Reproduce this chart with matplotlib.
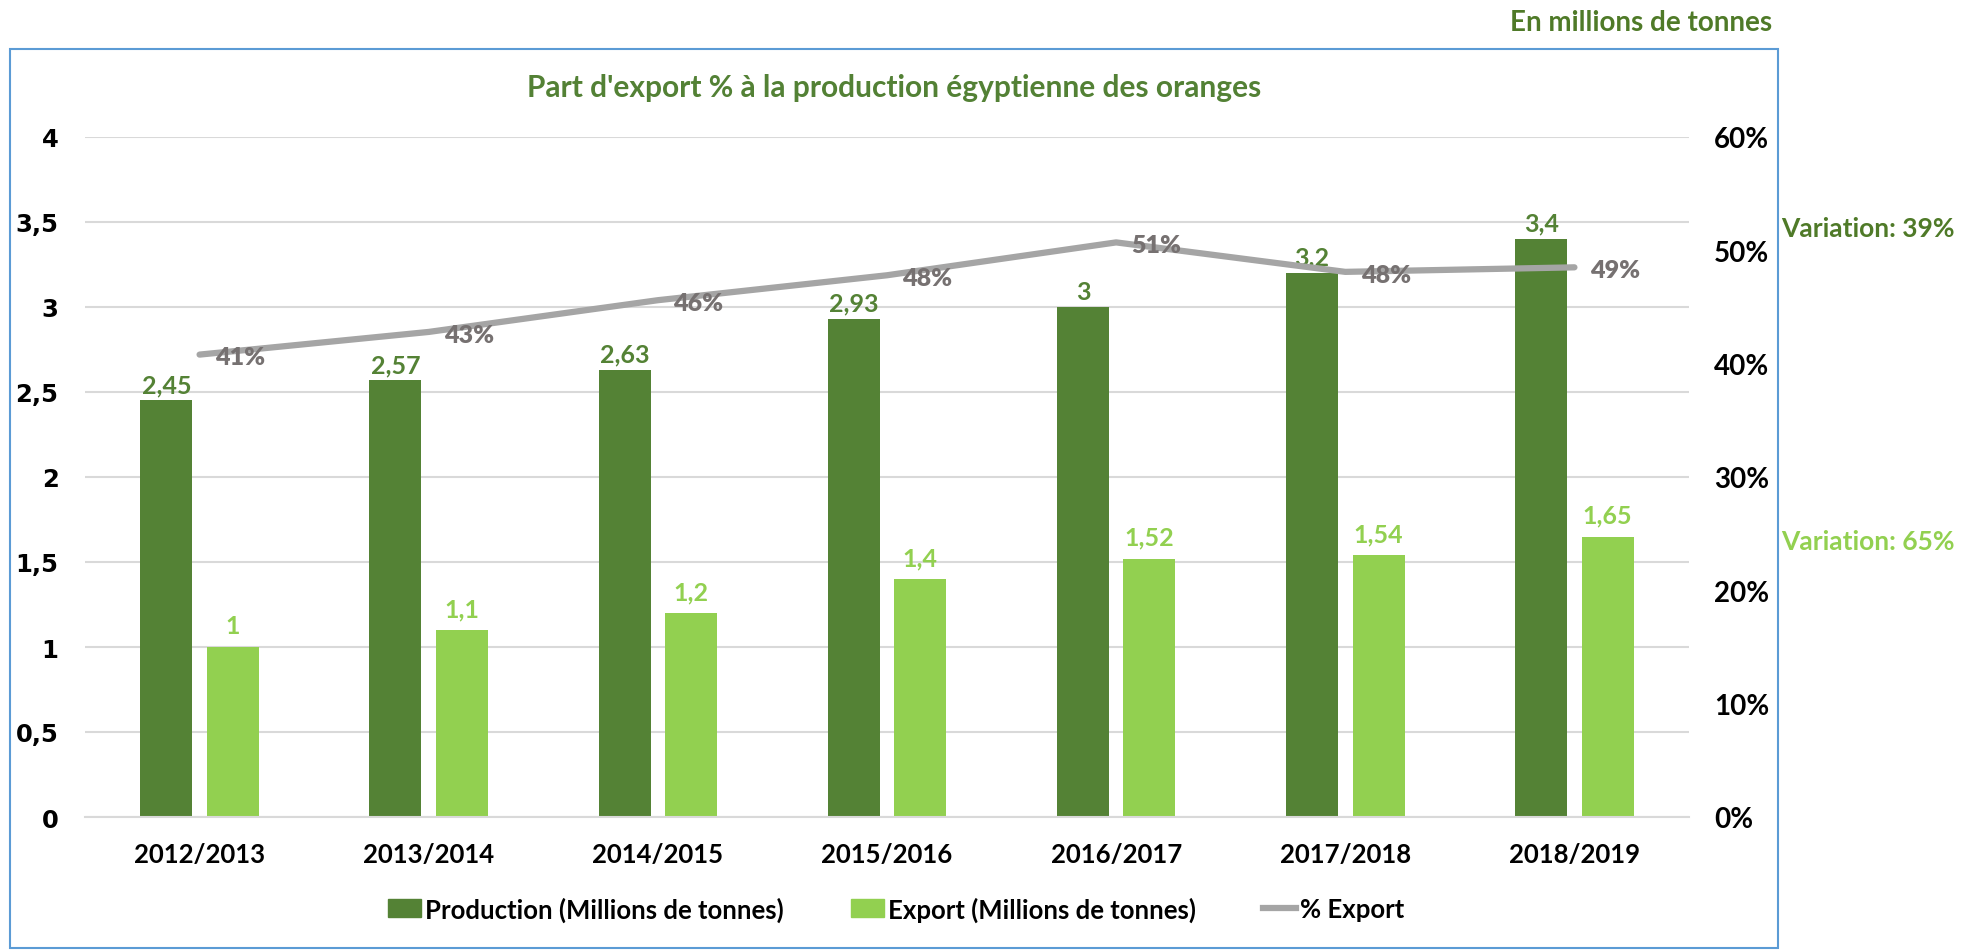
import numpy as np
import matplotlib.pyplot as plt
from matplotlib.patches import Rectangle
from matplotlib.lines import Line2D
from matplotlib.ticker import FuncFormatter

# =====================================================
# Data
# =====================================================
campagnes = ["2012/2013", "2013/2014", "2014/2015", "2015/2016",
             "2016/2017", "2017/2018", "2018/2019"]
production = [2.45, 2.57, 2.63, 2.93, 3.0, 3.2, 3.4]
export = [1.0, 1.1, 1.2, 1.4, 1.52, 1.54, 1.65]
part_export = [0.408, 0.428, 0.456, 0.478, 0.507, 0.481, 0.485]
part_labels = ["41%", "43%", "46%", "48%", "51%", "48%", "49%"]

c_prod = "#548235"
c_exp = "#92D050"
c_line = "#A5A5A5"
c_line_txt = "#767171"
font = "Lato"

# =====================================================
# Figure
# =====================================================
fig = plt.figure(figsize=(19.66, 9.53), dpi=100)
fig.patches.append(Rectangle((10 / 1966, 1 - 949 / 953), 1768 / 1966, 899 / 953,
                             transform=fig.transFigure, fill=False,
                             edgecolor="#5B9BD5", linewidth=1.5))

ax = fig.add_axes([85 / 1966, 1 - 818 / 953, (1689 - 85) / 1966, 680 / 953])
ax2 = ax.twinx()

x = np.arange(len(campagnes))
width = 0.227
off = 0.145

ax.bar(x - off, production, width, color=c_prod, zorder=2)
ax.bar(x + off, export, width, color=c_exp, zorder=2)

for xi, v in zip(x, production):
    ax.annotate(f"{v:g}".replace(".", ","), (xi - off, v), xytext=(0, 3),
                textcoords="offset points", ha="center", va="bottom",
                color=c_prod, fontsize=18, fontweight="bold", family=font)
for xi, v in zip(x, export):
    ax.annotate(f"{v:g}".replace(".", ","), (xi + off, v), xytext=(0, 7),
                textcoords="offset points", ha="center", va="bottom",
                color=c_exp, fontsize=18, fontweight="bold", family=font)

ax2.plot(x, part_export, color=c_line, linewidth=4.5, solid_capstyle="round", zorder=3)
for xi, v, lab in zip(x, part_export, part_labels):
    ax2.annotate(lab, (xi, v), xytext=(11, -2), textcoords="offset points",
                 ha="left", va="center", color=c_line_txt, fontsize=18,
                 fontweight="heavy", family=font)

ax.set_xlim(-0.5, len(campagnes) - 0.5)
ax.set_ylim(0, 4)
ax.set_yticks(np.arange(0, 4.01, 0.5))
ax.yaxis.set_major_formatter(FuncFormatter(lambda v, p: f"{v:g}".replace(".", ",")))
ax2.set_ylim(0, 0.6)
ax2.set_yticks(np.arange(0, 0.61, 0.1))
ax2.yaxis.set_major_formatter(FuncFormatter(lambda v, p: f"{v * 100:.0f}%"))

ax.grid(axis="y", color="#D9D9D9", linewidth=1.5, zorder=0)
ax.set_axisbelow(True)
for a in (ax, ax2):
    for s in a.spines.values():
        s.set_visible(False)
ax.spines["bottom"].set_visible(True)
ax.spines["bottom"].set_color("#D9D9D9")
ax.spines["bottom"].set_linewidth(1.5)

ax.set_xticks(x)
ax.set_xticklabels(campagnes, fontsize=18.5, fontweight="bold", family=font)
ax.tick_params(axis="x", length=0, pad=18)
ax.tick_params(axis="y", length=0, pad=19)
for t in ax.get_yticklabels():
    t.set_fontsize(17.5)
    t.set_fontweight("bold")
    t.set_family("DejaVu Sans")
ax2.tick_params(axis="y", length=0, pad=18)
for t in ax2.get_yticklabels():
    t.set_fontsize(20)
    t.set_fontweight("bold")
    t.set_family(font)

# =====================================================
# Texts
# =====================================================
fig.text(894 / 1966, 1 - 88 / 953, "Part d'export % à la production égyptienne des oranges",
         ha="center", va="center", color="#538135", fontsize=21.5,
         fontweight="bold", family=font)
fig.text(1772 / 1966, 1 - 23 / 953, "En millions de tonnes", ha="right", va="center",
         color="#4F7A28", fontsize=20, fontweight="bold", family=font)
fig.text(1781 / 1966, 1 - 229 / 953, "Variation: 39%", ha="left", va="center",
         color="#4F7A28", fontsize=19, fontweight="bold", family=font)
fig.text(1781 / 1966, 1 - 542 / 953, "Variation: 65%", ha="left", va="center",
         color=c_exp, fontsize=19, fontweight="bold", family=font)

handles = [Rectangle((0, 0), 1, 1, color=c_prod),
           Rectangle((0, 0), 1, 1, color=c_exp),
           Line2D([0], [0], color=c_line, linewidth=4.5)]
labels = ["Production (Millions de tonnes)", "Export (Millions de tonnes)", "% Export"]
fig.legend(handles, labels, loc="center", bbox_to_anchor=(896 / 1966, 1 - 910 / 953),
           ncol=3, frameon=False, handlelength=1.3, handletextpad=0.15,
           columnspacing=2.6, prop={"family": font, "weight": "bold", "size": 18.5})

fig.savefig("out.png", dpi=100)
